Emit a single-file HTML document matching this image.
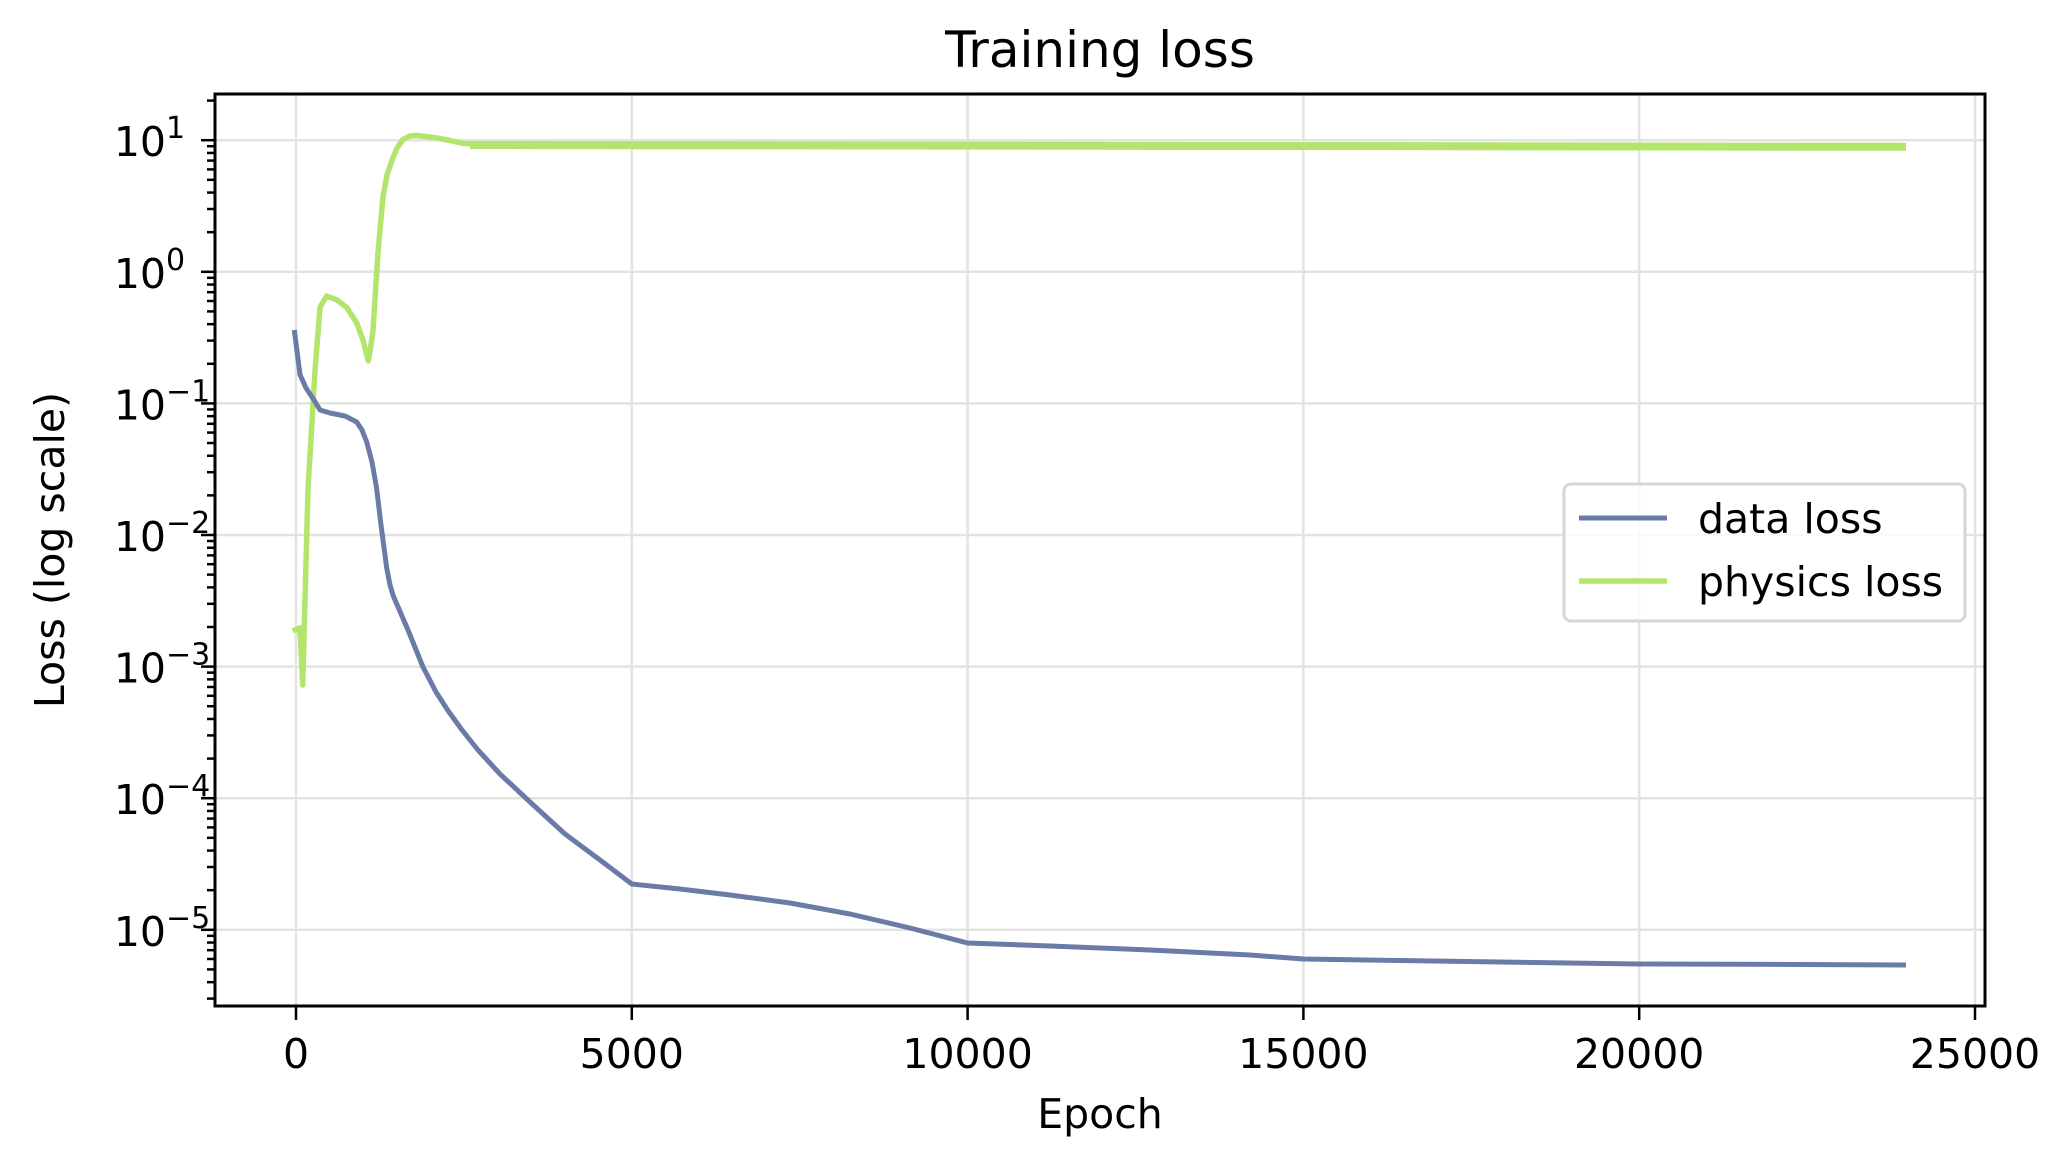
<!DOCTYPE html>
<html><head><meta charset="utf-8"><style>
html,body{margin:0;padding:0;background:#fff;}
svg{display:block;}
text{font-family:"DejaVu Sans","Liberation Sans",sans-serif;fill:#000;}
</style></head><body>
<svg id="s" width="2066" height="1166" viewBox="0 0 2066 1166" xmlns="http://www.w3.org/2000/svg">
<rect width="2066" height="1166" fill="#fff"/>
<g id="grid" stroke="#e3e3e3" stroke-width="2.5">
<line x1="296" y1="94" x2="296" y2="1006"/>
<line x1="631.8" y1="94" x2="631.8" y2="1006"/>
<line x1="967.6" y1="94" x2="967.6" y2="1006"/>
<line x1="1303.4" y1="94" x2="1303.4" y2="1006"/>
<line x1="1639.2" y1="94" x2="1639.2" y2="1006"/>
<line x1="1975" y1="94" x2="1975" y2="1006"/>
<line x1="215" y1="140.2" x2="1985" y2="140.2"/>
<line x1="215" y1="271.8" x2="1985" y2="271.8"/>
<line x1="215" y1="403.4" x2="1985" y2="403.4"/>
<line x1="215" y1="535" x2="1985" y2="535"/>
<line x1="215" y1="666.6" x2="1985" y2="666.6"/>
<line x1="215" y1="798.2" x2="1985" y2="798.2"/>
<line x1="215" y1="929.8" x2="1985" y2="929.8"/>
</g>
<!-- physics loss -->
<path fill="none" stroke="#b3e46c" stroke-width="5.5" stroke-linejoin="round" stroke-linecap="butt"
d="M292.7,630.8 L300,628 L302.7,685 L305,600 L308,489 L315,370.7 L320,307 L326.7,296 L337,300 L346.7,307.4 L356.7,323 L363,340 L368.3,360.8 L371,345 L373,331 L378,252 L383,196.8 L387,175 L391.7,161 L397,148 L403,139.5 L410,136 L416.7,135.5 L426,136.5 L436.7,138 L450,140.5 L463,143.4 L490,145 L560,145.5 L770,145.4 L1100,146 L1500,146.3 L1906,146.8"/>
<path fill="none" stroke="#b3e46c" stroke-width="8" d="M470,145 L1906,146.8"/>
<!-- data loss -->
<path fill="none" stroke="#6a7ba8" stroke-width="5" stroke-linejoin="round"
d="M294.3,330 L300,374.6 L306,388 L314,400 L320,410 L330,413 L345,416 L356.7,422 L362,430 L366.7,442 L372,462 L376.7,489 L381,525 L386.7,568 L390,585 L393.3,596 L408,630 L423,667 L436,692 L448,710.6 L462,730 L478,750 L500,774 L530,802 L565,834 L600,860 L631.8,884 L680,889 L730,895 L790,903 L850,914 L910,928 L967.6,943 L1050,946 L1150,950 L1250,955 L1303.4,959 L1400,960.5 L1500,962 L1639.2,964 L1800,964.5 L1906,965"/>
<!-- spines -->
<rect x="215" y="94" width="1770" height="912" fill="none" stroke="#000" stroke-width="3"/>
<g id="ticks" stroke="#000" stroke-width="2.5"></g>
<!-- x tick labels -->
<g font-size="41" text-anchor="middle">
<text x="296" y="1068">0</text>
<text x="631.8" y="1068">5000</text>
<text x="967.6" y="1068">10000</text>
<text x="1303.4" y="1068">15000</text>
<text x="1639.2" y="1068">20000</text>
<text x="1975" y="1068">25000</text>
</g>
<!-- y tick labels -->
<g font-size="41" text-anchor="end" id="ylab"></g>
<text x="1100" y="1128" font-size="41" text-anchor="middle">Epoch</text>
<text x="0" y="0" font-size="41" text-anchor="middle" transform="translate(64,550) rotate(-90)">Loss (log scale)</text>
<text x="1100" y="67" font-size="50" text-anchor="middle">Training loss</text>
<!-- legend -->
<rect x="1564" y="484" width="401" height="137" rx="7" fill="#fff" fill-opacity="0.8" stroke="#d6d6d6" stroke-width="3"/>
<line x1="1579" y1="518" x2="1667" y2="518" stroke="#6a7ba8" stroke-width="5"/>
<line x1="1579" y1="581" x2="1667" y2="581" stroke="#b3e46c" stroke-width="5.5"/>
<text x="1698" y="533" font-size="41">data loss</text>
<text x="1698" y="596" font-size="41">physics loss</text>
</svg>
<script>
(function(){
var NS="http://www.w3.org/2000/svg";
var t=document.getElementById("ticks"), yl=document.getElementById("ylab");
function ln(x1,y1,x2,y2){var l=document.createElementNS(NS,"line");l.setAttribute("x1",x1);l.setAttribute("y1",y1);l.setAttribute("x2",x2);l.setAttribute("y2",y2);t.appendChild(l);}
[296,631.8,967.6,1303.4,1639.2,1975].forEach(function(x){ln(x,1006,x,1020);});
for(var d=-6;d<=1;d++){
  var base=140.2+131.6*(1-d);
  if(base>=94&&base<=1006){ln(201,base,215,base);
    var tx=document.createElementNS(NS,"text");tx.setAttribute("x",166);tx.setAttribute("y",base+16);tx.textContent="10";yl.appendChild(tx);
    var sp=document.createElementNS(NS,"text");sp.setAttribute("x",166);sp.setAttribute("y",base-2);sp.setAttribute("font-size","30");sp.setAttribute("text-anchor","start");sp.textContent=(d<0?"\u2212":"")+Math.abs(d);yl.appendChild(sp);}
  for(var m=2;m<=9;m++){var y=base-131.6*Math.log10(m);if(y>=94&&y<=1006)ln(207,y,215,y);}
}
})();
</script>
</body></html>
